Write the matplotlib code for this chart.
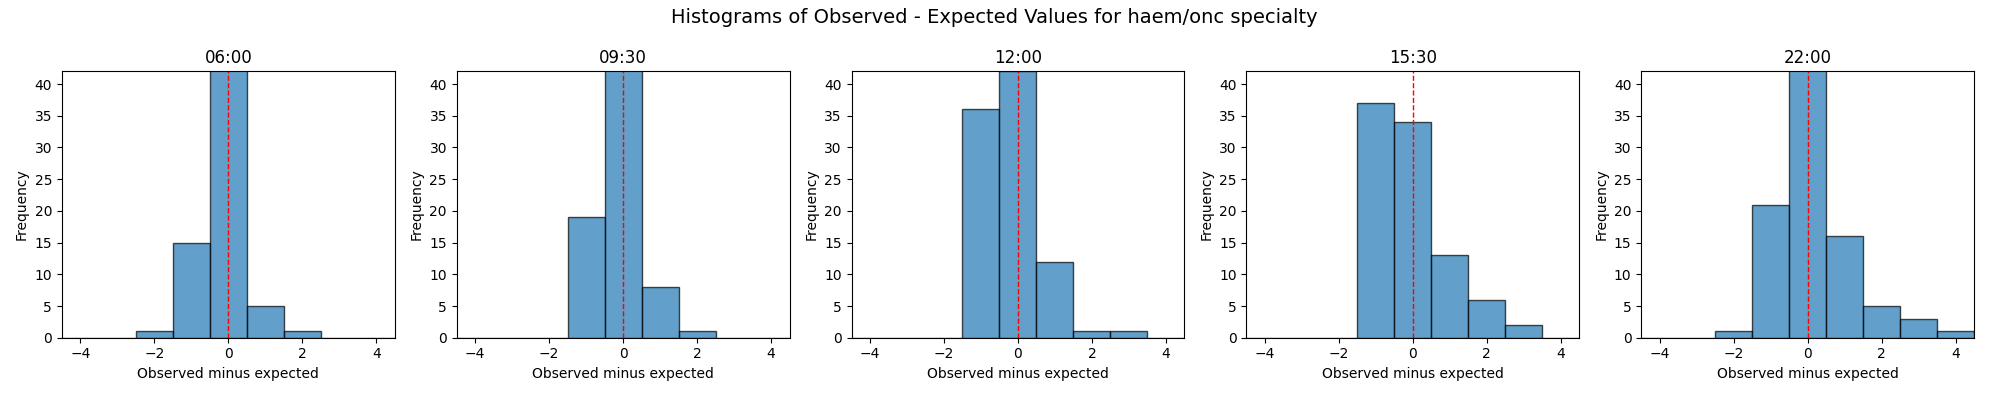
import numpy as np
import matplotlib
matplotlib.use("Agg")
import matplotlib.pyplot as plt

times = ["06:00", "09:30", "12:00", "15:30", "22:00"]
diff_values = [-4, -3, -2, -1, 0, 1, 2, 3, 4]
counts_0600 = [0, 0, 1, 15, 70, 5, 1, 0, 0]
counts_0930 = [0, 0, 0, 19, 64, 8, 1, 0, 0]
counts_1200 = [0, 0, 0, 36, 42, 12, 1, 1, 0]
counts_1530 = [0, 0, 0, 37, 34, 13, 6, 2, 0]
counts_2200 = [0, 0, 1, 21, 45, 16, 5, 3, 1]
all_counts = [counts_0600, counts_0930, counts_1200, counts_1530, counts_2200]

fig, axes = plt.subplots(1, 5, figsize=(19.89, 3.96), dpi=100)
edges = np.arange(-4.5, 5.0, 1.0)
for ax, t, c in zip(axes, times, all_counts):
    ax.hist(diff_values, bins=edges, weights=c, alpha=0.7, edgecolor='black')
    ax.axvline(0, color='red', linestyle='--', linewidth=1)
    ax.set_title(t)
    ax.set_xlabel("Observed minus expected")
    ax.set_ylabel("Frequency")
    ax.set_xlim(-4.5, 4.5)
    ax.set_ylim(0, 42)
fig.suptitle("Histograms of Observed - Expected Values for haem/onc specialty", fontsize=14)
fig.tight_layout()
fig.savefig("out.png")
